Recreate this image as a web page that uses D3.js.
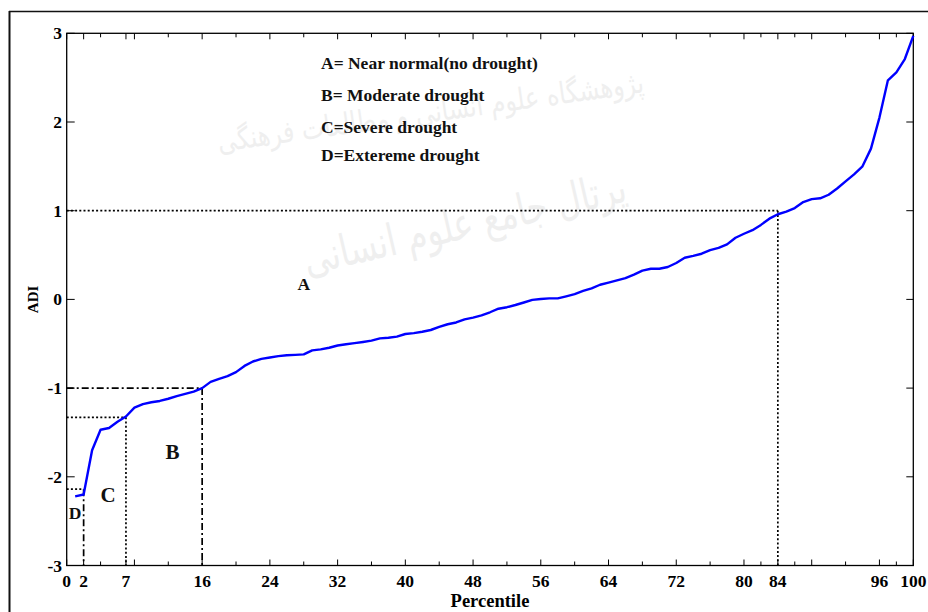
<!DOCTYPE html>
<html>
<head>
<meta charset="utf-8">
<script src="https://cdn.jsdelivr.net/npm/d3@7"></script>
<style>
  html, body { margin: 0; padding: 0; background: #fff; }
  svg { display: block; }
</style>
</head>
<body>
<script>
// ---------------- data ----------------
const percentile = [1,2,3,4,5,6,7,8,9,10,11,12,13,14,15,16,17,18,19,20,
  21,22,23,24,25,26,27,28,29,30,31,32,33,34,35,36,37,38,39,40,
  41,42,43,44,45,46,47,48,49,50,51,52,53,54,55,56,57,58,59,60,
  61,62,63,64,65,66,67,68,69,70,71,72,73,74,75,76,77,78,79,80,
  81,82,83,84,85,86,87,88,89,90,91,92,93,94,95,96,97,98,99,100];
const adi = [-2.22,-2.20,-1.70,-1.47,-1.45,-1.38,-1.32,-1.22,-1.18,-1.16,
  -1.145,-1.12,-1.09,-1.065,-1.04,-1.00,-0.93,-0.895,-0.865,-0.82,
  -0.75,-0.70,-0.67,-0.655,-0.64,-0.63,-0.625,-0.62,-0.575,-0.563,
  -0.545,-0.52,-0.505,-0.493,-0.48,-0.465,-0.44,-0.432,-0.42,-0.39,
  -0.38,-0.365,-0.345,-0.31,-0.28,-0.26,-0.225,-0.205,-0.18,-0.145,
  -0.105,-0.088,-0.063,-0.035,-0.005,0.005,0.011,0.012,0.035,0.06,
  0.095,0.125,0.165,0.19,0.215,0.24,0.28,0.325,0.345,0.346,
  0.365,0.41,0.47,0.49,0.515,0.555,0.58,0.62,0.695,0.74,
  0.78,0.84,0.91,0.96,0.99,1.03,1.097,1.13,1.14,1.18,
  1.25,1.33,1.41,1.50,1.70,2.05,2.47,2.56,2.71,2.97];

const thresholdPercentiles = [84, 16, 7, 2];
const thresholdValues = [1, -1, -1.33, -2.14];

const xTickLabels = [0, 2, 7, 16, 24, 32, 40, 48, 56, 64, 72, 80, 84, 96, 100];
const xMinorTicks = [4,12,20,28,36,44,52,60,68,76,82,86,92,98];
const xMajorTicks = [0,2,7,8,16,24,32,40,48,56,64,72,80,84,88,96,100];
const yTickLabels = [-3, -2, -1, 0, 1, 2, 3];

const legendLines = ["A= Near normal(no drought)", "B= Moderate drought",
                     "C=Severe drought", "D=Extereme drought"];
const zoneLabels = ["A", "B", "C", "D"];
const zoneAnchorP = [28, 12.5, 4.9, 1.0];
const zoneAnchorV = [0.11, -1.8, -2.28, -2.48];

const xTitle = "Percentile";
const yTitle = "ADI";
const watermark1 = "پژوهشگاه علوم انسانی و مطالعات فرهنگی";
const watermark2 = "پرتال جامع علوم انسانی";

// ---------------- layout ----------------
const W = 928, H = 612;
const plot = { left: 66.7, right: 913.3, top: 33.3, bottom: 565.5 };

const x = d3.scaleLinear().domain([0, 100]).range([plot.left, plot.right]);
const y = d3.scaleLinear().domain([-3, 3]).range([plot.bottom, plot.top]);

const svg = d3.select("body").append("svg")
  .attr("width", W).attr("height", H)
  .attr("viewBox", `0 0 ${W} ${H}`);

const serif = "'Liberation Serif', 'Times New Roman', serif";

// watermark (very faint)
const wm = svg.append("g").attr("fill", "#efefef").attr("font-family", "'DejaVu Sans', sans-serif");
wm.append("text").attr("transform", "translate(432,122) rotate(-8)")
  .attr("text-anchor", "middle").attr("direction", "rtl")
  .attr("font-size", 30).attr("textLength", 430).attr("lengthAdjust", "spacingAndGlyphs")
  .text(watermark1);
wm.append("text").attr("transform", "translate(468,238) rotate(-13)")
  .attr("text-anchor", "middle").attr("direction", "rtl")
  .attr("font-size", 44).attr("textLength", 330).attr("lengthAdjust", "spacingAndGlyphs")
  .text(watermark2);

// outer frame
svg.append("line").attr("x1", 9.5).attr("x2", 9.5).attr("y1", 11).attr("y2", H)
  .attr("stroke", "#111").attr("stroke-width", 2);
svg.append("line").attr("x1", 9).attr("x2", W).attr("y1", 11.5).attr("y2", 11.5)
  .attr("stroke", "#111").attr("stroke-width", 1.6);

// axes box
svg.append("rect")
  .attr("x", x(0)).attr("y", y(3))
  .attr("width", x(100) - x(0)).attr("height", y(-3) - y(3))
  .attr("fill", "none").attr("stroke", "#000").attr("stroke-width", 1.3);

// x ticks (inward, bottom and top)
const tickG = svg.append("g").attr("stroke", "#000").attr("stroke-width", 1);
function drawXTicks(vals, len) {
  vals.forEach(v => {
    tickG.append("line").attr("x1", x(v)).attr("x2", x(v))
      .attr("y1", y(-3)).attr("y2", y(-3) - len);
    tickG.append("line").attr("x1", x(v)).attr("x2", x(v))
      .attr("y1", y(3)).attr("y2", y(3) + len);
  });
}
drawXTicks(xMajorTicks, 6);
drawXTicks(xMinorTicks, 4);
yTickLabels.forEach(v => {
  tickG.append("line").attr("x1", x(0)).attr("x2", x(0) + 8).attr("y1", y(v)).attr("y2", y(v));
  tickG.append("line").attr("x1", x(100)).attr("x2", x(100) - 7).attr("y1", y(v)).attr("y2", y(v));
});

// tick labels
const labG = svg.append("g").attr("font-family", serif).attr("font-weight", "bold")
  .attr("font-size", 17.5).attr("fill", "#000");
xTickLabels.forEach(v => {
  labG.append("text").attr("x", x(v)).attr("y", 586.5).attr("text-anchor", "middle").text(v);
});
yTickLabels.forEach(v => {
  labG.append("text").attr("x", 62).attr("y", y(v) + 6).attr("text-anchor", "end").text(v);
});

// axis titles
svg.append("text").attr("x", (x(0) + x(100)) / 2).attr("y", 606.5)
  .attr("text-anchor", "middle").attr("font-family", serif).attr("font-weight", "bold")
  .attr("font-size", 18.5).text(xTitle);
svg.append("text").attr("transform", `translate(37.5,${y(0)}) rotate(-90)`)
  .attr("text-anchor", "middle").attr("font-family", serif).attr("font-weight", "bold")
  .attr("font-size", 15).text(yTitle);

// threshold lines
const dotted = "2,2.2";
const dashdot = "7,3,2,3";
const hStyles = [dotted, dashdot, dotted, dotted];
const vStyles = [dotted, dashdot, dotted, dashdot];
const thrG = svg.append("g").attr("stroke", "#000").attr("stroke-width", 1.7).attr("fill", "none");
thresholdPercentiles.forEach((p, i) => {
  const v = thresholdValues[i];
  thrG.append("line").attr("x1", x(0)).attr("x2", x(p)).attr("y1", y(v)).attr("y2", y(v))
    .attr("stroke-dasharray", hStyles[i]);
  thrG.append("line").attr("x1", x(p)).attr("x2", x(p)).attr("y1", y(v)).attr("y2", y(-3))
    .attr("stroke-dasharray", vStyles[i]);
});

// curve
const line = d3.line().x((d, i) => x(percentile[i])).y(d => y(d));
svg.append("path").datum(adi).attr("d", line)
  .attr("fill", "none").attr("stroke", "#0000ff").attr("stroke-width", 2.4)
  .attr("stroke-linejoin", "round");

// legend text
const legY = [69.3, 101, 133.3, 160.7];
const legG = svg.append("g").attr("font-family", serif).attr("font-weight", "bold")
  .attr("font-size", 17.5).attr("fill", "#111");
legendLines.forEach((t, i) => {
  legG.append("text").attr("x", 321).attr("y", legY[i]).text(t);
});

// zone labels
const zoneSizes = [17.5, 21, 21, 17.5];
zoneLabels.forEach((t, i) => {
  svg.append("text").attr("x", x(zoneAnchorP[i])).attr("y", y(zoneAnchorV[i]))
    .attr("text-anchor", "middle").attr("font-family", serif).attr("font-weight", "bold")
    .attr("font-size", zoneSizes[i]).attr("fill", "#111").text(t);
});
</script>
</body>
</html>
